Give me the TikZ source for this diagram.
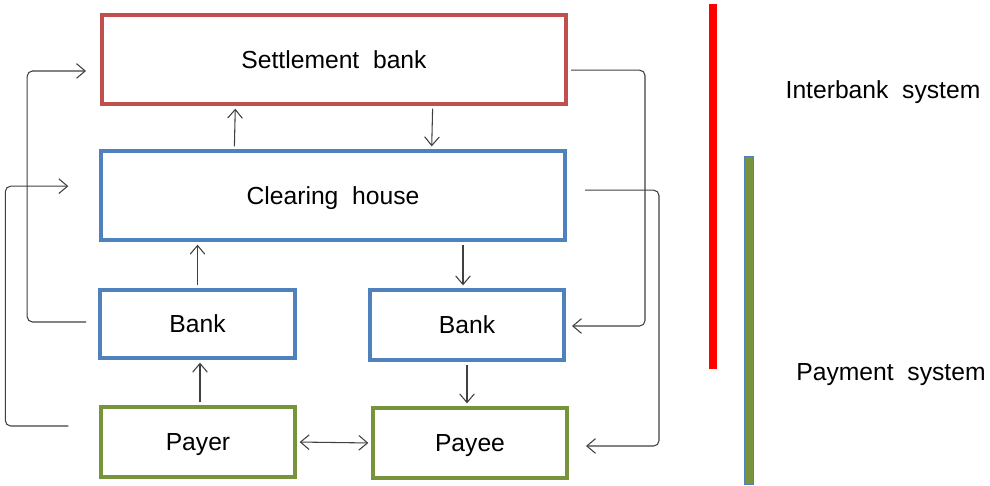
\documentclass[tikz,border=0pt]{standalone}
\usepackage{fontspec}
\setmainfont{Liberation Sans}
\usetikzlibrary{arrows.meta}
\definecolor{settlered}{HTML}{C0504D}
\definecolor{clearblue}{HTML}{4F81BD}
\definecolor{partygreen}{HTML}{77933C}
\definecolor{linkgray}{HTML}{404040}

\begin{document}
\begin{tikzpicture}[x=0.75pt,y=-0.75pt,
  sysbox/.style={draw,line width=3pt,inner sep=0pt,fill=white,text depth=0pt,
    font=\fontsize{18.5}{22}\selectfont},
  link/.style={draw=linkgray,line width=0.8pt,rounded corners=4pt,
    -{Straight Barb[length=6.5pt,width=11pt]}},
  shortlink/.style={link,shorten <=2pt,shorten >=2pt},
  syslabel/.style={text depth=0pt,font=\fontsize{18.5}{22}\selectfont}]
  \useasboundingbox (0,0) rectangle (990,486);

  % boxes
  \node[sysbox,draw=settlered,minimum width=348pt,minimum height=66.75pt]
    (settle) at (334,59.5) {Settlement\ \ bank};
  \node[sysbox,draw=clearblue,minimum width=348pt,minimum height=66.75pt]
    (clear) at (333,195.5) {Clearing\ \ house};
  \node[sysbox,draw=clearblue,minimum width=146pt,minimum height=51pt]
    (bankL) at (197.5,324) {Bank};
  \node[sysbox,draw=clearblue,minimum width=145.5pt,minimum height=52.5pt]
    (bankR) at (467,325) {Bank};
  \node[sysbox,draw=partygreen,minimum width=145.5pt,minimum height=52.5pt]
    (payer) at (198,442) {Payer};
  \node[sysbox,draw=partygreen,minimum width=145.5pt,minimum height=52.5pt]
    (payee) at (470,443) {Payee};

  % straight arrows
  \draw[shortlink] ([xshift=-74pt]clear.north) -- ([xshift=-74pt]settle.south);
  \draw[shortlink] ([xshift=74pt]settle.south) -- ([xshift=74pt]clear.north);
  \draw[shortlink] (bankL.north) -- (bankL.north |- clear.south);
  \draw[shortlink] ([xshift=-3pt]bankR.north |- clear.south) -- ([xshift=-3pt]bankR.north);
  \draw[shortlink] ([xshift=1.5pt]payer.north) -- ([xshift=1.5pt]payer.north |- bankL.south);
  \draw[shortlink] (bankR.south) -- (bankR.south |- payee.north);
  \draw[shortlink,{Straight Barb[length=6.5pt,width=11pt]}-{Straight Barb[length=6.5pt,width=11pt]}]
    (payer.east) -- (payee.west);

  % loops round the boxes
  \draw[link] ([xshift=-9pt,yshift=1.5pt]bankL.west) -- ++(-59,0)
    |- ([xshift=-10.5pt,yshift=-8.6pt]settle.west);
  \draw[link] ([xshift=-23pt,yshift=12pt]payer.west) -- ++(-63,0)
    |- ([xshift=-23pt,yshift=7pt]clear.west);
  \draw[link] ([xshift=2.25pt,yshift=-8pt]settle.east) -- ++(74,0)
    |- ([xshift=4.5pt,yshift=-0.75pt]bankR.east);
  \draw[link] ([xshift=13.5pt,yshift=4pt]clear.east) -- ++(74,0)
    |- ([xshift=12.75pt,yshift=-2.25pt]payee.east);

  % system bars
  \fill[red] (709,4) rectangle (717,369);
  \draw[clearblue,fill=partygreen,line width=0.6pt] (744,156) rectangle (753,484);
  \node[syslabel] (interbank) at (883,90) {Interbank\ \ system};
  \node[syslabel] (payment) at (891,372) {Payment\ \ system};
\end{tikzpicture}
\end{document}
